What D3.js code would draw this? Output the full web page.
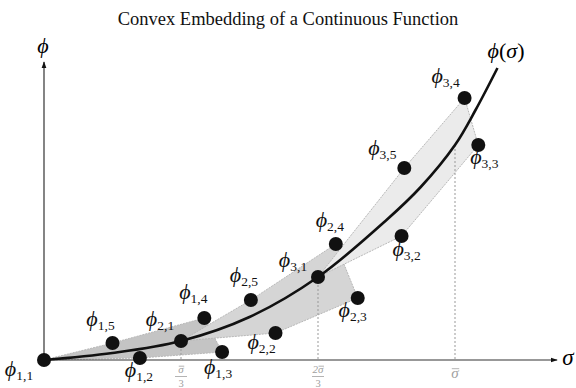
<!DOCTYPE html>
<html>
<head>
<meta charset="utf-8">
<script src="https://cdn.jsdelivr.net/npm/d3@7"></script>
<style>
  body { margin: 0; background: #fff; }
  svg { display: block; }
  text { font-family: 'Liberation Serif', 'DejaVu Serif', serif; }
</style>
</head>
<body>
<div id="chart"></div>
<script>
// points phi_{g,i}: group, index, sigma, phi
const ptGroup = [1, 1, 1, 1, 1, 2, 2, 2, 2, 2, 3, 3, 3, 3, 3];
const ptIndex = [1, 2, 3, 4, 5, 1, 2, 3, 4, 5, 1, 2, 3, 4, 5];
const ptSigma = [0, 0.70, 1.30, 1.17, 0.50, 1.0, 1.69, 2.29, 2.13, 1.51, 2.0, 2.61, 3.17, 3.07, 2.63];
const ptPhi = [0, 0.02, 0.08, 0.42, 0.17, 0.19, 0.27, 0.62, 1.16, 0.60, 0.83, 1.24, 2.15, 2.62, 1.92];

// the continuous function phi(sigma)
const curveSigma = [0, 0.5, 1, 1.5, 2, 2.5, 2.75, 3, 3.15, 3.31];
const curvePhi = [0, 0.07, 0.19, 0.43, 0.83, 1.40, 1.73, 2.15, 2.50, 2.92];

// ticks on sigma axis (sigma-bar = 3)
const tickValues = [1, 2, 3];
const tickNum = ['σ', '2σ', 'σ'];
const tickDen = ['3', '3', null];

const w = 576;
const h = 388;

const x = d3.scaleLinear().domain([0, 3]).range([44, 455]);
const y = d3.scaleLinear().domain([0, 3]).range([360, 60]);

const svg = d3.select('#chart').append('svg').attr('width', w).attr('height', h);

const defs = svg.append('defs');
defs.append('marker')
  .attr('id', 'arrow')
  .attr('viewBox', '0 0 10 10')
  .attr('refX', 9)
  .attr('refY', 5)
  .attr('markerWidth', 7)
  .attr('markerHeight', 7)
  .attr('markerUnits', 'userSpaceOnUse')
  .attr('orient', 'auto')
  .append('path')
  .attr('d', 'M0,1.5 L10,5 L0,8.5 Z')
  .attr('fill', '#111');

// title
svg.append('text')
  .attr('x', w / 2)
  .attr('y', 25)
  .attr('text-anchor', 'middle')
  .attr('font-size', 18.5)
  .attr('fill', '#111')
  .text('Convex Embedding of a Continuous Function');

// convex hull polygons
const fills = { 1: '#c4c4c4', 2: '#d5d5d5', 3: '#ebebeb' };
[1, 2, 3].forEach((g) => {
  const pts = ptGroup
    .map((gg, i) => (gg === g ? [x(ptSigma[i]), y(ptPhi[i])] : null))
    .filter((p) => p);
  svg.append('path')
    .attr('d', 'M' + pts.join('L') + 'Z')
    .attr('fill', fills[g])
    .attr('stroke', '#b8b8b8')
    .attr('stroke-width', 1)
    .attr('stroke-dasharray', '2,1');
});

// dashed guides from the curve down to the axis
tickValues.forEach((t) => {
  const k = curveSigma.indexOf(t);
  svg.append('line')
    .attr('x1', x(t)).attr('x2', x(t))
    .attr('y1', y(curvePhi[k])).attr('y2', y(0))
    .attr('stroke', '#999')
    .attr('stroke-width', 1)
    .attr('stroke-dasharray', '2,2');
});

// axes
svg.append('line')
  .attr('x1', x(0)).attr('y1', y(0))
  .attr('x2', x(3.745)).attr('y2', y(0))
  .attr('stroke', '#333').attr('stroke-width', 1.2)
  .attr('marker-end', 'url(#arrow)');
svg.append('line')
  .attr('x1', x(0)).attr('y1', y(0))
  .attr('x2', x(0)).attr('y2', y(2.98))
  .attr('stroke', '#333').attr('stroke-width', 1.2)
  .attr('marker-end', 'url(#arrow)');

svg.append('text')
  .attr('x', x(0) - 1).attr('y', 53)
  .attr('text-anchor', 'middle')
  .attr('font-size', 22).attr('font-style', 'italic')
  .text('ϕ');
svg.append('text')
  .attr('x', 568).attr('y', 365)
  .attr('text-anchor', 'middle')
  .attr('font-size', 23).attr('font-style', 'italic')
  .text('σ');

// tick labels (fractions); a bar is drawn over each sigma
tickValues.forEach((t, i) => {
  const g = svg.append('g').attr('fill', '#a0a0a0');
  const frac = !!tickDen[i];
  const fs = frac ? 11 : 15;
  const base = frac ? 373 : 378;
  const num = g.append('text')
    .attr('x', x(t)).attr('y', base)
    .attr('text-anchor', 'middle')
    .attr('font-size', fs).attr('font-style', 'italic')
    .text(tickNum[i]);
  const n = tickNum[i].length - 1;
  const node = num.node();
  const a = node.getStartPositionOfChar(n).x;
  const b = node.getEndPositionOfChar(n).x;
  g.append('line')
    .attr('x1', a + 0.5).attr('x2', b + 0.5)
    .attr('y1', base - fs * 0.62).attr('y2', base - fs * 0.62)
    .attr('stroke', '#a0a0a0').attr('stroke-width', 0.8);
  if (frac) {
    g.append('line')
      .attr('x1', x(t) - 6).attr('x2', x(t) + 6)
      .attr('y1', 376.5).attr('y2', 376.5)
      .attr('stroke', '#a0a0a0').attr('stroke-width', 0.8);
    g.append('text')
      .attr('x', x(t)).attr('y', 386.5)
      .attr('text-anchor', 'middle')
      .attr('font-size', 10.5)
      .text(tickDen[i]);
  }
});

// the curve
const line = d3.line()
  .x((d) => x(d[0]))
  .y((d) => y(d[1]))
  .curve(d3.curveCatmullRom);
svg.append('path')
  .datum(curveSigma.map((s, i) => [s, curvePhi[i]]))
  .attr('d', line)
  .attr('fill', 'none')
  .attr('stroke', '#111')
  .attr('stroke-width', 2.6);

svg.append('text')
  .attr('x', 506).attr('y', 58)
  .attr('text-anchor', 'middle')
  .attr('font-size', 22)
  .html('<tspan font-style="italic">ϕ</tspan>(<tspan font-style="italic">σ</tspan>)');

// points
svg.selectAll('circle.pt')
  .data(ptSigma)
  .enter()
  .append('circle')
  .attr('class', 'pt')
  .attr('cx', (d) => x(d))
  .attr('cy', (d, i) => y(ptPhi[i]))
  .attr('r', 7)
  .attr('fill', '#111');

// label offsets (dx, dy) relative to each point
const labelOff = [
  [-25, 16], [-1, 19], [-4, 22], [-11, -19], [-12, -17],
  [-21, -15], [-14, 16], [-5, 19], [-6, -17], [-7, -18],
  [-25, -10], [5, 20], [6, 19], [-19, -15], [-22, -13]
];

ptSigma.forEach((s, i) => {
  const t = svg.append('text')
    .attr('x', x(s) + labelOff[i][0])
    .attr('y', y(ptPhi[i]) + labelOff[i][1])
    .attr('text-anchor', 'middle')
    .attr('font-size', 22)
    .attr('fill', '#111');
  t.append('tspan').attr('font-style', 'italic').text('ϕ');
  t.append('tspan')
    .attr('font-size', 13.5)
    .attr('dy', 4)
    .text(ptGroup[i] + ',' + ptIndex[i]);
});
</script>
</body>
</html>
